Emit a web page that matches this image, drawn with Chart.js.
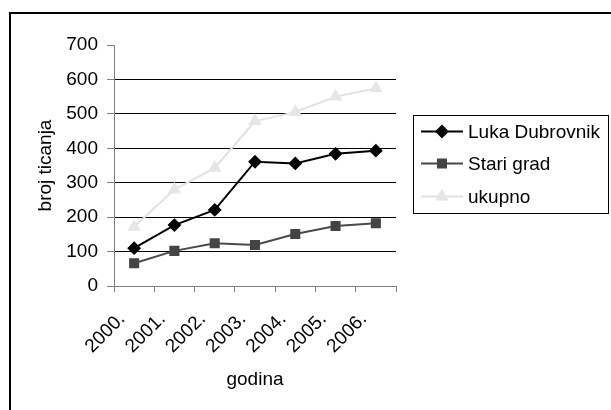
<!DOCTYPE html>
<html>
<head>
<meta charset="utf-8">
<script src="https://cdn.jsdelivr.net/npm/chart.js@4/dist/chart.umd.min.js"></script>
<style>
  html, body { margin: 0; padding: 0; background: #fff; }
  #wrap { width: 611px; height: 410px; position: relative; }
</style>
</head>
<body>
<div id="wrap"><canvas id="c" width="611" height="410"></canvas></div>
<script>
// Broj ticanja brodova po godinama
const godine = ['2000.', '2001.', '2002.', '2003.', '2004.', '2005.', '2006.'];
const lukaDubrovnik = [110, 177, 221, 361, 356, 384, 393];
const stariGrad = [66, 102, 124, 119, 151, 174, 182];
const ukupno = [172, 280, 343, 479, 505, 550, 574];
const yTicks = [0, 100, 200, 300, 400, 500, 600, 700];

const FONT = 'Liberation Sans, Arial, sans-serif';
const FS = 19;

// Outer frame and boxed legend on the right
const frameAndLegend = {
  id: 'frameAndLegend',
  afterDraw(chart) {
    const ctx = chart.ctx;
    ctx.save();
    ctx.strokeStyle = '#000';
    ctx.lineWidth = 2;
    ctx.strokeRect(10, 13, 700, 500);

    ctx.lineWidth = 1;
    ctx.strokeRect(413.5, 115.5, 195, 98);

    const rows = [131.5, 163.5, 196.5];
    chart.data.datasets.forEach((ds, i) => {
      const y = rows[i];
      ctx.strokeStyle = ds.borderColor;
      ctx.lineWidth = ds.borderWidth;
      ctx.beginPath();
      ctx.moveTo(421, y);
      ctx.lineTo(463, y);
      ctx.stroke();
      ctx.fillStyle = ds.pointBackgroundColor;
      ctx.strokeStyle = ds.pointBorderColor;
      Chart.helpers.drawPoint(ctx, {
        pointStyle: ds.pointStyle,
        radius: ds.pointRadius,
        rotation: 0,
        borderWidth: 1
      }, 442, y);
      ctx.fillStyle = '#000';
      ctx.font = FS + 'px ' + FONT;
      ctx.textAlign = 'left';
      ctx.textBaseline = 'middle';
      ctx.fillText(ds.label, 468, y + 1);
    });
    ctx.restore();
  }
};

new Chart(document.getElementById('c'), {
  type: 'line',
  data: {
    labels: godine,
    datasets: [
      {
        label: 'Luka Dubrovnik',
        data: lukaDubrovnik,
        borderColor: '#000000',
        borderWidth: 2,
        pointStyle: 'rectRot',
        pointRadius: 5.5,
        pointBackgroundColor: '#000000',
        pointBorderColor: '#000000',
        tension: 0
      },
      {
        label: 'Stari grad',
        data: stariGrad,
        borderColor: '#4a4a4a',
        borderWidth: 2,
        pointStyle: 'rect',
        pointRadius: 5.7,
        pointBackgroundColor: '#444444',
        pointBorderColor: '#444444',
        tension: 0
      },
      {
        label: 'ukupno',
        data: ukupno,
        borderColor: '#e2e2e2',
        borderWidth: 2,
        pointStyle: 'triangle',
        pointRadius: 5.8,
        pointBackgroundColor: '#e6e6e6',
        pointBorderColor: '#e6e6e6',
        tension: 0
      }
    ]
  },
  options: {
    responsive: false,
    animation: false,
    layout: { padding: { top: 45, right: 215, bottom: 0, left: 0 } },
    plugins: {
      legend: { display: false },
      tooltip: { enabled: false }
    },
    scales: {
      x: {
        type: 'category',
        offset: true,
        afterFit(scale) { scale.height = 124; },
        border: { display: true, color: '#808080', width: 1 },
        grid: {
          display: true,
          offset: true,
          drawOnChartArea: false,
          drawTicks: true,
          tickLength: 6,
          tickColor: '#808080'
        },
        ticks: {
          color: '#000',
          font: { family: FONT, size: FS },
          minRotation: 45,
          maxRotation: 45,
          padding: 16,
          labelOffset: -12,
          autoSkip: false
        },
        title: {
          display: true,
          text: 'godina',
          color: '#000',
          font: { family: FONT, size: FS },
          padding: { top: 0, bottom: 19 }
        }
      },
      y: {
        min: 0,
        max: 700,
        afterFit(scale) { scale.width = 114; },
        afterBuildTicks(scale) { scale.ticks = yTicks.map(v => ({ value: v })); },
        border: { display: true, color: '#808080', width: 1 },
        grid: {
          drawTicks: true,
          tickLength: 7,
          tickColor: '#808080',
          color: ctx => (ctx.tick && ctx.tick.value > 0 && ctx.tick.value < 700) ? '#000000' : 'rgba(0,0,0,0)',
          lineWidth: 1
        },
        ticks: {
          color: '#000',
          font: { family: FONT, size: FS },
          padding: 9
        },
        title: {
          display: true,
          text: 'broj ticanja',
          color: '#000',
          font: { family: FONT, size: FS },
          padding: { top: 34, bottom: 0 }
        }
      }
    }
  },
  plugins: [frameAndLegend]
});
</script>
</body>
</html>
